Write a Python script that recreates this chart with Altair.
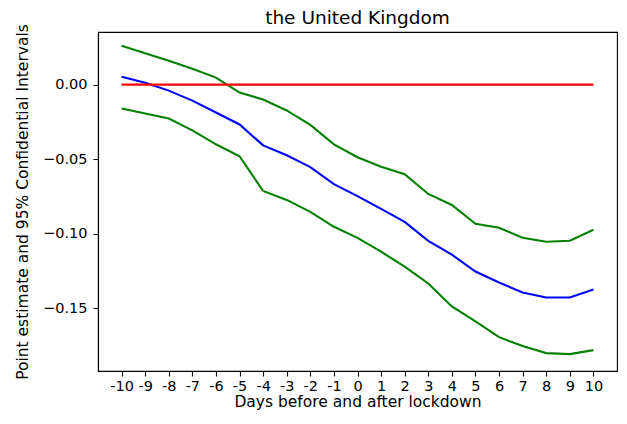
import altair as alt
import pandas as pd

days = list(range(-10, 11))
estimate = [0.0053, 0.0013, -0.004, -0.0107, -0.0187, -0.0267, -0.0407, -0.0473, -0.0553,
            -0.0667, -0.0747, -0.0833, -0.092, -0.1047, -0.114, -0.1253, -0.1327, -0.1393,
            -0.1427, -0.1427, -0.1373]
upper = [0.026, 0.021, 0.016, 0.0107, 0.0047, -0.0053, -0.010, -0.0173, -0.027, -0.040,
         -0.0487, -0.055, -0.060, -0.0733, -0.0807, -0.0933, -0.096, -0.1027, -0.1053,
         -0.1047, -0.0973]
lower = [-0.016, -0.0193, -0.0227, -0.0307, -0.040, -0.048, -0.0713, -0.0773, -0.0853,
         -0.0953, -0.1027, -0.112, -0.122, -0.1333, -0.1487, -0.1587, -0.1693, -0.1753,
         -0.18, -0.1807, -0.178]
zero_days = [-10, 10]
zero_vals = [0.0, 0.0]
y_ticks = [0.0, -0.05, -0.10, -0.15]

FONT = "DejaVu Sans"

df_est = pd.DataFrame({"day": days, "value": estimate})
df_up = pd.DataFrame({"day": days, "value": upper})
df_lo = pd.DataFrame({"day": days, "value": lower})
df_zero = pd.DataFrame({"day": zero_days, "value": zero_vals})

x_enc = alt.X(
    "day:Q",
    scale=alt.Scale(domain=[-11, 11], nice=False, zero=False),
    axis=alt.Axis(values=days, labelExpr="'' + datum.value", title="Days before and after lockdown",
                  labelFlush=False, labelOverlap=False, labelPadding=3, titlePadding=2),
)
y_enc = alt.Y(
    "value:Q",
    scale=alt.Scale(domain=[-0.192, 0.0353], nice=False, zero=False),
    axis=alt.Axis(values=y_ticks, format=".2f", labelPadding=6, titlePadding=12,
                  title="Point estimate and 95% Confidential Intervals"),
)

def line(df, color):
    return alt.Chart(df).mark_line(color=color, strokeWidth=2.1).encode(x=x_enc, y=y_enc)

chart = alt.layer(
    line(df_est, "blue"),
    line(df_up, "green"),
    line(df_lo, "green"),
    line(df_zero, "red"),
).properties(
    width=519,
    height=339,
    title=alt.TitleParams("the United Kingdom", fontSize=18.5, fontWeight="normal", font=FONT,
                          color="black", anchor="middle", offset=5, dy=9),
    autosize=alt.AutoSizeParams(type="none"),
    padding={"left": 90, "top": 24, "right": 2, "bottom": 41},
).configure_axis(
    labelFont=FONT, titleFont=FONT, labelFontSize=14.5, titleFontSize=15.5,
    labelColor="black", titleColor="black", titleFontWeight="normal",
    tickColor="black", domainColor="black", tickSize=5,
    grid=False, domainWidth=1.1, tickWidth=1.1,
).configure_view(
    stroke="black", strokeWidth=1.1
)

chart.save("out.html", embed_options={"renderer": "svg", "actions": False})
